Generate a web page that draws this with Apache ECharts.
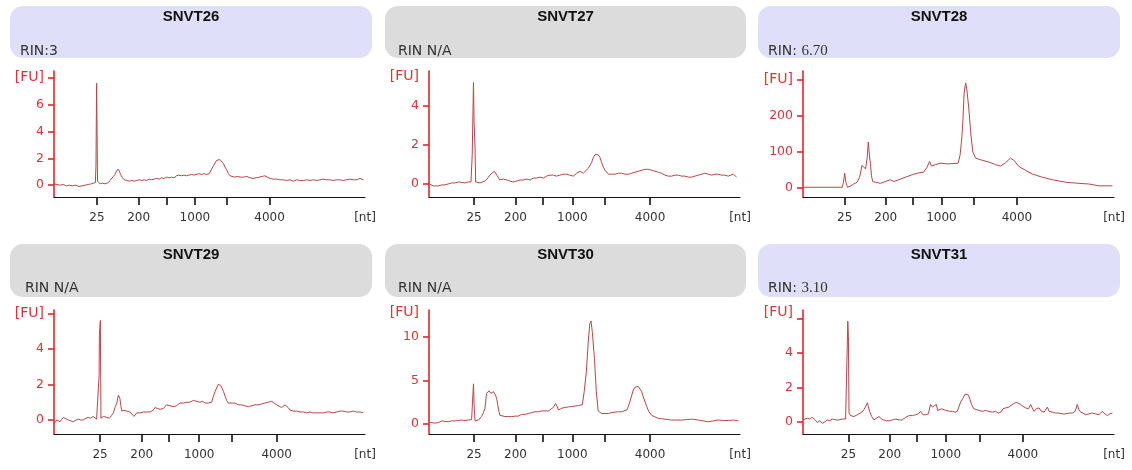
<!DOCTYPE html>
<html><head><meta charset="utf-8">
<script src="https://cdn.jsdelivr.net/npm/echarts@6/dist/echarts.min.js"></script>
<style>html,body{margin:0;padding:0;background:#fff}#c{width:1132px;height:470px}</style>
</head><body><div id="c"></div>
<script>
// ---- data (x = migration position, % of axis span; y = fluorescence [FU]) ----
const sampleNames = ['SNVT26','SNVT27','SNVT28','SNVT29','SNVT30','SNVT31'];
const rinTexts = ['RIN:3','RIN N/A','RIN: 6.70','RIN N/A','RIN N/A','RIN: 3.10'];
const ladderNt = ['25','200','500','1000','2000','4000'];
const labeledNt = ['25','200','1000','4000'];

const ladderPos26 = [13.8, 27.2, 36.1, 45.3, 55.6, 69.3];
const ladderPos27 = [14.5, 27.8, 36.5, 46.1, 56.5, 71.1];
const ladderPos28 = [13.4, 26.6, 35.3, 44.5, 54.8, 68.8];
const ladderPos29 = [14.8, 28.2, 37.0, 46.7, 57.1, 71.6];
const ladderPos30 = [14.5, 27.8, 36.5, 46.1, 56.5, 71.1];
const ladderPos31 = [14.6, 27.9, 36.7, 45.9, 56.8, 70.7];

const snvt26 = [[0,0.1],[1,0.05],[2,0],[3,0.05],[4,-0.05],[5,0],[6,-0.05],[7,0],[8,-0.1],[9,-0.05],[10,0],[11,0.05],[12,0.1],[12.6,0.1],[13.3,0.2],[13.5,1.5],[13.7,7.6],[13.8,5.2],[14.0,0.3],[14.8,0.1],[15.6,0.15],[16.4,0.1],[17.0,0.2],[17.5,0.2],[18.0,0.35],[18.5,0.45],[19.1,0.65],[19.6,0.8],[20.1,1.05],[20.6,1.2],[21.0,1.05],[21.4,0.8],[22.0,0.55],[22.6,0.4],[23.4,0.35],[24.2,0.3],[25.0,0.35],[25.8,0.3],[26.6,0.35],[27.4,0.4],[28.2,0.35],[29.0,0.4],[29.8,0.35],[30.6,0.45],[31.4,0.4],[32.2,0.45],[33.0,0.5],[33.8,0.45],[34.6,0.55],[35.4,0.5],[36.2,0.6],[37.0,0.55],[37.8,0.6],[38.6,0.55],[39.4,0.7],[40.2,0.75],[41.0,0.7],[41.8,0.75],[42.6,0.7],[43.4,0.75],[44.2,0.8],[45.0,0.75],[45.8,0.8],[46.6,0.85],[47.4,0.8],[48.2,0.85],[49.0,0.8],[49.9,0.85],[50.7,1.2],[51.3,1.45],[51.8,1.65],[52.3,1.85],[52.8,1.95],[53.4,1.9],[53.9,1.8],[54.5,1.6],[55.0,1.35],[55.6,1.1],[56.1,0.85],[56.6,0.7],[57.1,0.65],[58.0,0.6],[59.0,0.65],[60.0,0.6],[61.0,0.6],[62.0,0.65],[63.0,0.55],[64.0,0.5],[65.0,0.55],[66.0,0.6],[67.0,0.65],[67.8,0.7],[68.6,0.6],[69.5,0.5],[70.5,0.45],[71.6,0.45],[72.6,0.4],[73.7,0.4],[74.8,0.35],[75.9,0.4],[77.0,0.3],[78.0,0.4],[79.0,0.35],[80.2,0.35],[81.2,0.4],[82.3,0.35],[83.4,0.4],[84.5,0.35],[85.5,0.4],[86.6,0.45],[87.6,0.4],[88.7,0.4],[89.8,0.35],[90.9,0.4],[92.0,0.4],[93.0,0.35],[94.0,0.4],[95.2,0.45],[96.2,0.4],[97.3,0.4],[98.4,0.5],[99.5,0.4]];

const snvt27 = [[0,0],[1.4,-0.1],[3.0,-0.1],[4.1,-0.05],[5.1,-0.05],[6.2,0],[7.3,0.05],[8.4,0.05],[9.4,0.1],[10.5,0.08],[11.6,0.05],[12.6,0.1],[13.5,0.1],[13.9,1.5],[14.3,5.2],[14.5,3.1],[14.8,1.9],[15.0,0.1],[16.4,0.05],[18.0,0.15],[18.9,0.3],[19.6,0.45],[21.0,0.65],[21.8,0.45],[22.8,0.2],[23.9,0.25],[25.0,0.2],[26.0,0.15],[27.1,0.1],[28.2,0.15],[29.3,0.2],[30.3,0.2],[31.4,0.25],[32.5,0.2],[33.5,0.3],[34.6,0.3],[35.7,0.35],[36.8,0.3],[37.8,0.4],[38.9,0.45],[40.0,0.45],[41.0,0.4],[42.1,0.45],[43.2,0.5],[44.3,0.5],[45.3,0.45],[46.4,0.4],[47.5,0.55],[48.6,0.65],[49.6,0.55],[50.2,0.55],[51.2,0.8],[52.3,1.1],[52.8,1.35],[53.4,1.5],[54.4,1.5],[55.0,1.35],[55.5,1.1],[56.1,0.85],[56.6,0.7],[57.7,0.5],[58.7,0.5],[59.8,0.5],[60.9,0.55],[61.9,0.55],[63.0,0.5],[64.1,0.5],[65.2,0.55],[66.2,0.6],[67.3,0.65],[68.4,0.7],[69.5,0.75],[70.0,0.8],[70.7,0.75],[71.6,0.7],[72.7,0.65],[73.7,0.6],[74.8,0.55],[75.9,0.45],[76.9,0.4],[78.0,0.4],[79.1,0.45],[80.2,0.45],[81.2,0.4],[82.3,0.4],[83.4,0.35],[84.5,0.35],[85.5,0.4],[86.6,0.45],[87.7,0.5],[88.7,0.55],[89.8,0.5],[90.9,0.45],[92.0,0.5],[93.0,0.5],[94.1,0.45],[95.2,0.45],[96.2,0.4],[96.8,0.35],[97.9,0.5],[98.4,0.45],[98.9,0.35]];

const snvt28 = [[0,0],[12.6,0],[13.0,14],[13.4,39],[13.8,14],[14.3,0],[15.2,3],[16.3,9],[17.4,14],[18.2,28],[19.0,61],[19.5,59],[20.1,51],[20.6,79],[21.0,126],[21.4,84],[21.7,65],[22.0,33],[22.4,16],[23.3,14],[24.9,11],[26.5,16],[28.1,21],[29.2,16],[30.8,21],[32.9,28],[35.1,35],[37.2,40],[38.8,42],[39.9,56],[40.7,72],[41.3,59],[42.6,63],[44.2,67],[46.4,65],[48.5,66],[49.9,67],[50.5,89],[51.0,131],[51.4,182],[51.8,262],[52.3,290],[52.7,271],[53.3,220],[54.0,145],[54.6,98],[55.5,81],[57.6,75],[59.8,70],[61.9,63],[63.5,59],[65.1,68],[66.7,81],[67.8,75],[69.4,58],[71.6,47],[73.7,37],[76.9,28],[80.2,21],[84.4,14],[88.7,11],[92.0,9],[92.5,5],[95.2,4],[99.5,4]];

const snvt29 = [[0,-0.2],[0.9,0],[1.9,-0.1],[3.0,0.15],[3.9,0.05],[4.6,0],[5.4,-0.05],[6.2,-0.1],[7.1,0],[7.8,0.05],[8.6,0],[9.4,0],[10.3,0.1],[11.0,0.15],[11.8,0.1],[12.6,0.2],[13.7,0.05],[14.3,0],[14.5,2.5],[14.6,4.8],[14.9,5.6],[15.1,0.1],[15.9,0.2],[16.4,0.2],[17.8,0.1],[18.5,0.25],[19.1,0.4],[19.6,0.7],[20.2,0.95],[20.7,1.4],[21.2,1.2],[21.5,0.8],[21.8,0.5],[22.5,0.55],[23.4,0.5],[24.4,0.45],[25.0,0.4],[25.7,0.2],[26.6,0.4],[27.7,0.4],[28.7,0.45],[29.8,0.45],[30.9,0.45],[31.9,0.55],[32.5,0.7],[33.2,0.65],[34.1,0.6],[35.2,0.65],[36.2,0.85],[37.3,0.8],[38.4,0.75],[39.4,0.8],[40.5,0.95],[41.6,0.95],[42.7,1.0],[43.7,1.0],[44.8,1.1],[45.9,1.05],[46.9,1.0],[47.8,1.05],[48.6,0.95],[49.6,0.95],[50.7,1.0],[51.2,1.3],[51.8,1.6],[52.3,1.8],[52.8,2.0],[53.6,1.95],[54.0,1.8],[54.5,1.6],[55.0,1.35],[55.5,1.1],[56.1,0.95],[56.6,0.85],[57.5,0.95],[58.2,0.95],[59.3,0.85],[60.3,0.85],[61.4,0.8],[62.5,0.75],[63.6,0.8],[64.6,0.85],[65.7,0.85],[66.8,0.9],[67.8,0.95],[68.9,1.0],[70.0,1.05],[70.5,1.0],[71.6,0.85],[72.1,0.75],[73.2,0.7],[73.7,0.7],[74.3,0.85],[74.8,0.95],[75.3,0.7],[75.9,0.55],[77.0,0.5],[78.0,0.5],[79.1,0.45],[80.2,0.45],[81.2,0.4],[82.3,0.45],[83.4,0.4],[84.5,0.4],[85.5,0.4],[86.6,0.4],[87.7,0.45],[88.7,0.45],[89.8,0.4],[90.9,0.45],[92.0,0.5],[93.0,0.5],[94.1,0.45],[95.2,0.45],[96.2,0.5],[97.3,0.45],[98.4,0.45],[99.5,0.4]];

const snvt30 = [[0,0.2],[0.9,0.15],[1.9,0.1],[3.0,0.15],[4.1,0.35],[5.1,0.3],[6.2,0.25],[7.3,0.35],[8.4,0.35],[9.4,0.4],[10.5,0.45],[11.6,0.4],[12.6,0.45],[13.7,0.5],[14.0,0.55],[14.3,4.6],[14.5,2.2],[14.8,0.35],[15.3,0.4],[15.9,0.45],[16.9,0.85],[17.5,1.3],[18.0,1.8],[18.5,3.5],[19.3,3.8],[19.9,3.5],[20.7,3.7],[21.4,3.3],[21.8,2.8],[22.1,2.2],[22.5,1.4],[22.8,1.0],[24.4,0.85],[25.5,0.85],[26.6,0.85],[27.7,0.9],[28.7,0.9],[29.8,1.1],[30.9,1.1],[31.9,1.2],[33.0,1.3],[34.1,1.4],[35.2,1.4],[36.2,1.5],[37.3,1.5],[38.4,1.5],[39.2,1.7],[40.0,1.9],[40.7,2.35],[41.2,2.0],[41.6,1.6],[42.7,1.8],[43.7,1.9],[44.8,1.95],[45.9,2.0],[46.9,2.05],[48.0,2.1],[49.3,2.2],[49.9,3.7],[50.6,6.0],[51.2,9.4],[51.7,11.5],[52.1,11.8],[52.5,10.6],[53.2,7.5],[53.8,3.7],[54.4,1.5],[55.5,1.2],[56.6,1.2],[57.7,1.2],[58.7,1.3],[59.8,1.35],[60.9,1.4],[61.9,1.4],[63.6,1.6],[64.1,2.0],[64.6,2.55],[65.2,3.3],[65.7,3.9],[66.2,4.2],[66.8,4.3],[67.3,4.3],[67.8,4.1],[68.4,3.7],[68.9,3.1],[69.5,2.5],[70.0,2.0],[70.7,1.4],[71.6,1.0],[72.7,0.8],[73.7,0.65],[74.8,0.6],[75.9,0.55],[77.0,0.5],[78.0,0.45],[79.6,0.45],[81.2,0.45],[82.8,0.5],[84.5,0.55],[85.5,0.5],[86.6,0.45],[88.2,0.35],[89.8,0.25],[91.4,0.35],[93.0,0.45],[94.6,0.4],[96.2,0.4],[97.9,0.45],[99.5,0.35]];

const snvt31 = [[0,0.1],[0.6,0],[1.4,0.2],[2.1,0.15],[3.0,0.25],[3.9,0.1],[4.6,-0.05],[5.4,0.05],[6.2,-0.1],[7.1,0],[7.8,0.1],[8.6,0.05],[9.4,0.15],[10.5,0.1],[11.6,0.1],[12.6,0.15],[13.7,0.15],[14.1,0.2],[14.4,5.85],[14.6,4.95],[14.8,0.5],[15.3,0.35],[15.9,0.4],[16.4,0.3],[16.9,0.2],[17.5,0.4],[18.0,0.5],[18.9,0.55],[19.6,0.7],[20.2,0.9],[20.7,1.1],[21.0,0.9],[21.4,0.6],[22.1,0.3],[22.8,0.1],[23.6,0.2],[24.4,0.3],[25.3,0.15],[26.0,0.1],[26.8,0.05],[27.7,0.05],[28.7,0.1],[29.8,0.15],[30.9,0.1],[31.9,0.1],[33.0,0.25],[34.1,0.35],[35.2,0.35],[36.2,0.4],[37.1,0.45],[37.8,0.6],[38.6,0.4],[39.4,0.4],[40.3,0.45],[41.0,1.0],[41.6,0.85],[42.1,0.8],[42.9,1.0],[43.3,0.65],[43.7,0.6],[44.6,0.75],[45.0,0.85],[45.9,0.65],[46.4,0.6],[47.2,0.6],[48.0,0.6],[48.9,0.55],[49.6,0.6],[50.2,0.9],[50.7,1.15],[51.4,1.35],[52.1,1.6],[53.2,1.55],[53.7,1.3],[54.2,1.0],[54.9,0.75],[55.5,0.7],[56.6,0.65],[57.7,0.6],[58.7,0.65],[59.8,0.6],[60.9,0.55],[61.9,0.6],[62.8,0.5],[63.6,0.55],[64.3,0.75],[65.2,0.8],[66.2,0.85],[67.3,1.0],[68.2,1.1],[68.9,1.1],[70.0,1.0],[70.7,0.9],[71.6,0.8],[72.5,0.75],[73.2,1.0],[73.7,0.8],[74.3,0.6],[75.0,0.75],[75.9,0.8],[76.7,0.6],[77.5,0.55],[78.6,0.85],[79.1,0.6],[80.2,0.55],[81.2,0.5],[82.3,0.5],[83.4,0.45],[84.5,0.45],[85.5,0.5],[86.6,0.5],[87.5,0.6],[88.2,1.0],[88.7,0.7],[89.3,0.55],[90.0,0.5],[90.9,0.4],[92.0,0.45],[93.0,0.5],[94.1,0.45],[95.2,0.4],[96.2,0.6],[97.1,0.45],[97.9,0.35],[98.6,0.45],[99.5,0.5]];

// y-axis: range, tick values, and position of the "[FU]" unit label
const yMins = [-0.88, -0.67, -27, -0.79, -1.15, -0.72];
const yMaxs = [8.5, 5.79, 323, 6.19, 13.06, 6.5];
const yTicks = [[0,2,4,6,8],[0,2,4],[0,100,200,300],[0,2,4,6],[0,5,10],[0,2,4,6]];
const yLabelVals = [[0,2,4,6],[0,2,4],[0,100,200],[0,2,4],[0,5,10],[0,2,4]];
const fuPos = [8, 5.53, 300, 6, 12.75, 6.35];

// ---- layout ----
const traces = [snvt26, snvt27, snvt28, snvt29, snvt30, snvt31];
const ladders = [ladderPos26, ladderPos27, ladderPos28, ladderPos29, ladderPos30, ladderPos31];
const headerFill = ['#dfdff9','#dcdcdd','#dfdff9','#dcdcdd','#dcdcdd','#dfdff9'];
const colLeft = [54, 429, 803];
const headX = [[10,372],[385,746],[758,1120]];
const rowTop = [71, 310];
const rowH = [126, 124];
const headY = [[6,58],[244,297]];
const titleY = [17, 255];
const rinY = [51.5, 288];
const rinX = [20, 398, 768, 25, 398, 768];

const grids = [], xAxes = [], yAxes = [], series = [], graphics = [];
const FONT = '"DejaVu Sans", Verdana, sans-serif';
for (let i = 0; i < 6; i++) {
  const r = Math.floor(i / 3), c = i % 3;
  grids.push({left: colLeft[c], top: rowTop[r], width: 311, height: rowH[r]});
  const lad = ladders[i];
  const labVals = labeledNt.map(l => lad[ladderNt.indexOf(l)]).concat([100]);
  xAxes.push({
    type: 'value', gridIndex: i, min: 0, max: 100,
    axisLine: {show: true, onZero: false, lineStyle: {color: '#111', width: 1}},
    axisTick: {show: true, length: 8, customValues: lad, lineStyle: {color: '#111', width: 1.6}},
    axisLabel: {show: true, customValues: labVals, margin: 15, color: '#333', fontSize: 12, fontFamily: FONT,
      formatter: (v) => { if (v === 100) return '[nt]'; const k = lad.indexOf(v); return k >= 0 ? ladderNt[k] : ''; }},
    splitLine: {show: false}
  });
  const fu = fuPos[i];
  yAxes.push({
    type: 'value', gridIndex: i, min: yMins[i], max: yMaxs[i],
    axisLine: {show: true, onZero: false, lineStyle: {color: '#e3262b', width: 1.6}},
    axisTick: {show: true, length: 6, customValues: yTicks[i], lineStyle: {color: '#e3262b', width: 1.6}},
    axisLabel: {show: true, customValues: yLabelVals[i].concat([fu]), margin: 10, color: '#d8343a', fontSize: 12.5, fontFamily: FONT,
      formatter: (v) => v === fu ? '{fu|[FU]}' : String(v),
      rich: {fu: {fontSize: 14, color: '#d8343a', fontFamily: FONT}}},
    splitLine: {show: false}
  });
  series.push({
    type: 'line', xAxisIndex: i, yAxisIndex: i, data: traces[i],
    showSymbol: false, symbol: 'none', smooth: false,
    lineStyle: {color: '#b5474b', width: 1}, animation: false, silent: true
  });
  const hx = headX[c], hy = headY[r];
  graphics.push({type: 'rect', z: -1, shape: {x: hx[0], y: hy[0], width: hx[1]-hx[0], height: hy[1]-hy[0], r: 13}, style: {fill: headerFill[i]}});
  graphics.push({type: 'text', x: (hx[0]+hx[1])/2, y: titleY[r],
    style: {text: sampleNames[i], fill: '#111', font: 'bold 15px "Liberation Sans", Arial, sans-serif',
      textAlign: 'center', textVerticalAlign: 'middle', align: 'center', verticalAlign: 'middle'}});
  const rin = rinTexts[i];
  const m = rin.match(/^(RIN:\s)(\d+\.\d+)$/);
  if (m) {
    graphics.push({type: 'text', x: rinX[i], y: rinY[r],
      style: {text: '{a|' + m[1] + '}{b|' + m[2] + '}', textAlign: 'left', textVerticalAlign: 'middle', align: 'left', verticalAlign: 'middle',
        rich: {a: {fill: '#333', color: '#333', font: '14px ' + FONT}, b: {fill: '#333', color: '#333', font: '15px "Liberation Serif", "DejaVu Serif", serif'}}}});
  } else {
    graphics.push({type: 'text', x: rinX[i], y: rinY[r],
      style: {text: rin, fill: '#333', font: '14px ' + FONT, textAlign: 'left', textVerticalAlign: 'middle', align: 'left', verticalAlign: 'middle'}});
  }
}

const chart = echarts.init(document.getElementById('c'), null, {renderer: 'canvas'});
chart.setOption({
  backgroundColor: '#fff',
  animation: false,
  grid: grids, xAxis: xAxes, yAxis: yAxes, series: series,
  graphic: {elements: graphics}
});
</script></body></html>
